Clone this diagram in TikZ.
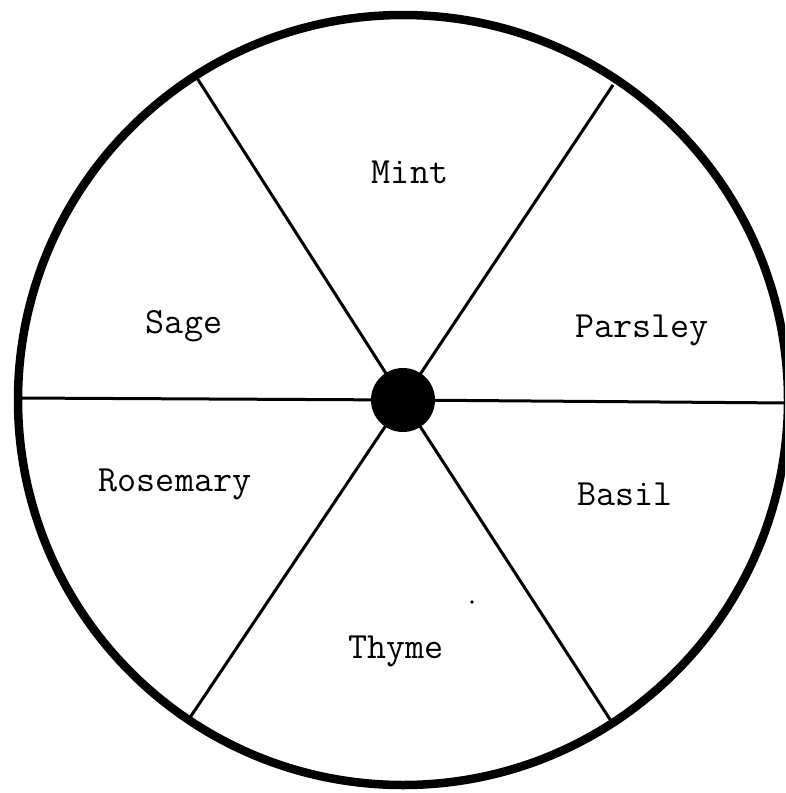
\documentclass[tikz,border=0pt]{standalone}
\usepackage{fontspec}
\begin{document}
\begin{tikzpicture}[x=1pt,y=-1pt,
  rim/.style={line width=8.5pt},
  spoke/.style={line width=3pt},
  hub/.style={circle,fill=black,minimum size=64pt,inner sep=0pt},
  herb/.style={anchor=base,inner sep=0pt,font=\ttfamily\fontsize{37}{42}\selectfont}]
\useasboundingbox (0,0) rectangle (785,793);
\clip (0,0) rectangle (785,793);
\coordinate (c) at (403,400);
\coordinate (tl) at (197,78);
\coordinate (tr) at (613,85);
\coordinate (bl) at (187,722);
\coordinate (br) at (613,724);
\coordinate (l) at (18,398);
\coordinate (r) at (790,403);
\draw[spoke] (c) -- (tl);
\draw[spoke] (c) -- (tr);
\draw[spoke] (c) -- (bl);
\draw[spoke] (c) -- (br);
\draw[spoke] (c) -- (l);
\draw[spoke] (c) -- (r);
\draw[rim] (c) circle[radius=385];
\node[hub] (h) at (c) {};
\node[herb] (mint) at (410,183) {Mint};
\node[herb] (sage) at (184,333) {Sage};
\node[herb] (parsley) at (642,337) {Parsley};
\node[herb] (rosemary) at (175,491) {Rosemary};
\node[herb] (basil) at (625,505) {Basil};
\node[herb] (thyme) at (396,658) {Thyme};
\fill (472,602) circle[radius=1.8];
\end{tikzpicture}
\end{document}
